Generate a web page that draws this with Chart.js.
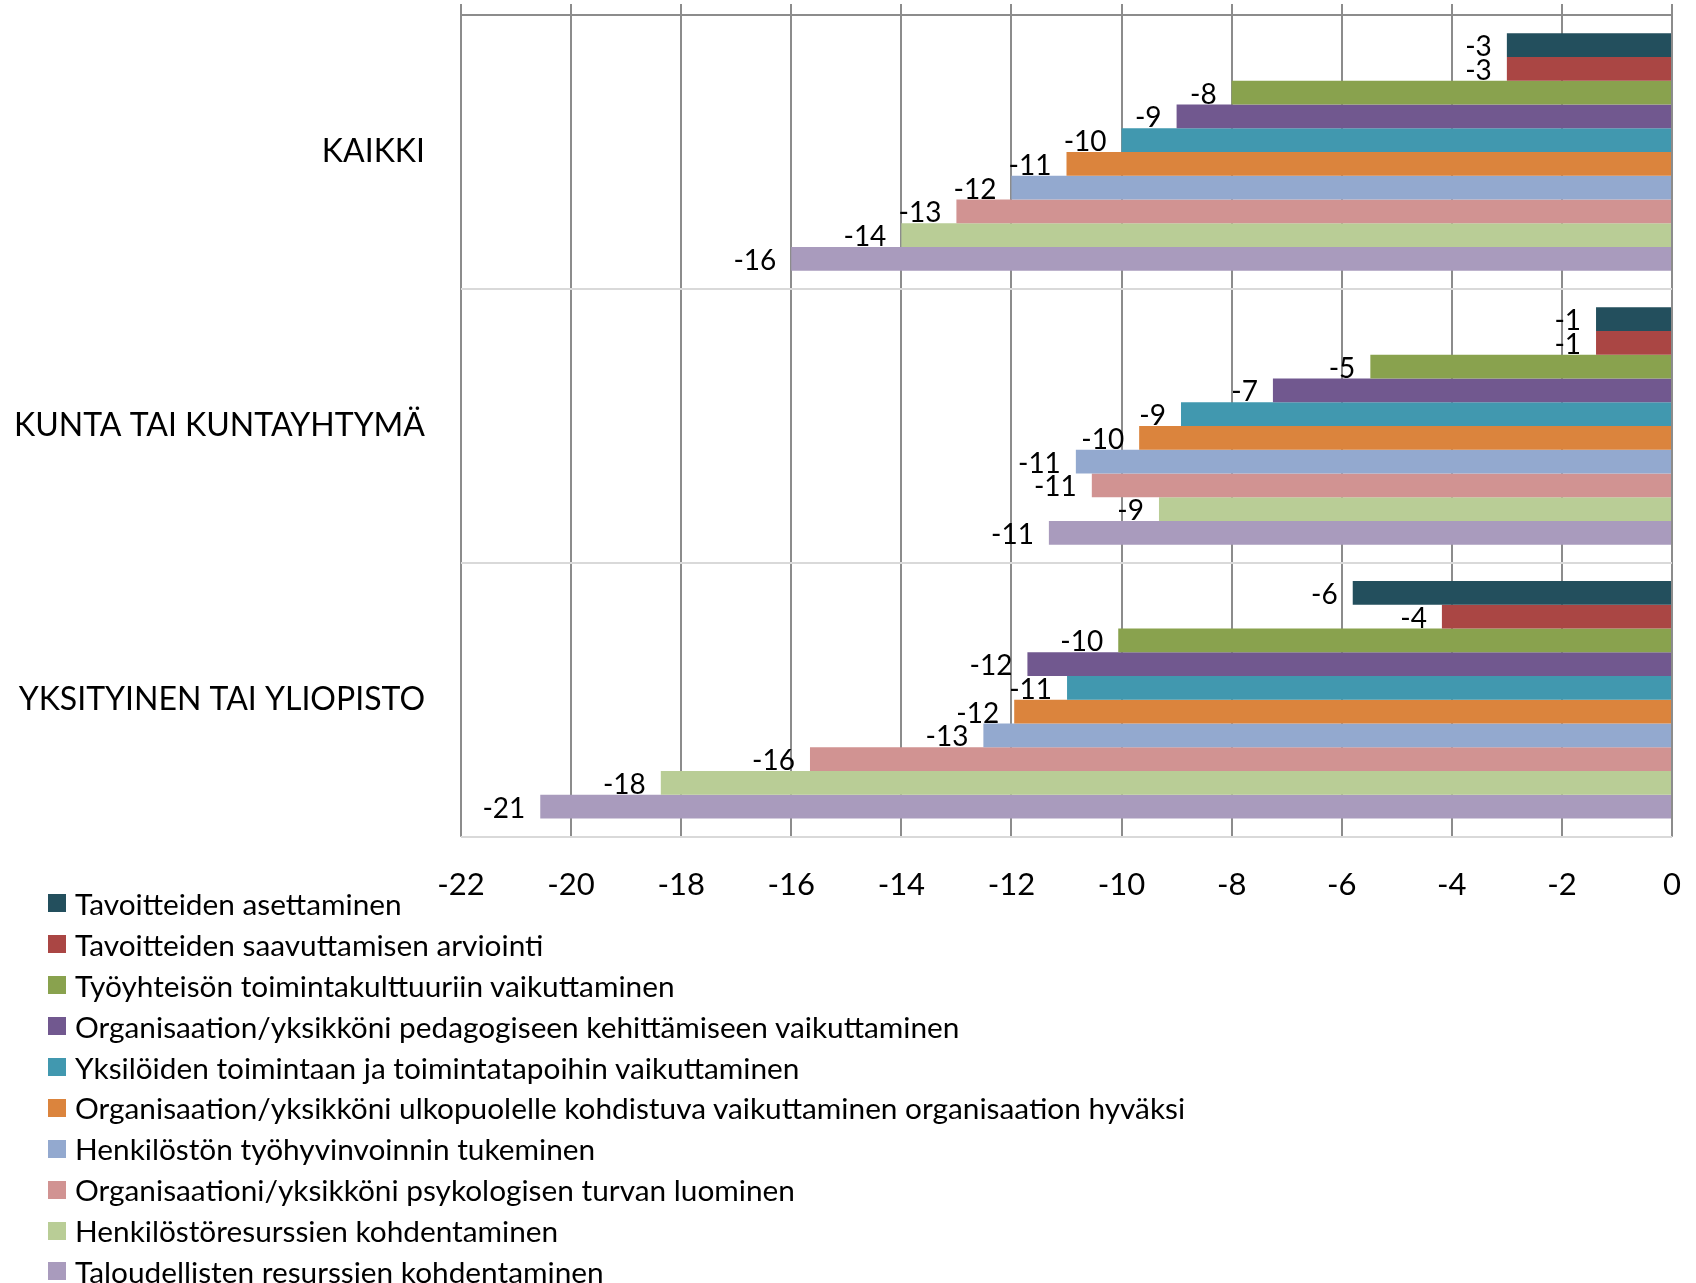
<!DOCTYPE html>
<html>
<head>
<meta charset="utf-8">
<script src="https://cdn.jsdelivr.net/npm/chart.js@4/dist/chart.umd.min.js"></script>
<style>
  body { margin: 0; background: #fff; }
  #wrap { position: relative; width: 1696px; height: 1283px; overflow: hidden; }
  #legend { position: absolute; left: 48px; top: 883px; font-family: Lato, sans-serif; font-size: 29.8px; color: #000; }
  .item { height: 40.9px; display: flex; align-items: center; white-space: nowrap; }
  .box { width: 18px; height: 18px; margin-right: 9px; flex: none; }
</style>
</head>
<body>
<div id="wrap">
  <canvas id="chart"></canvas>
  <div id="legend"></div>
</div>
<script>
const categories = ['KAIKKI', 'KUNTA TAI KUNTAYHTYMÄ', 'YKSITYINEN TAI YLIOPISTO'];

const seriesNames = [
  'Tavoitteiden asettaminen',
  'Tavoitteiden saavuttamisen arviointi',
  'Työyhteisön toimintakulttuuriin vaikuttaminen',
  'Organisaation/yksikköni pedagogiseen kehittämiseen vaikuttaminen',
  'Yksilöiden toimintaan ja toimintatapoihin vaikuttaminen',
  'Organisaation/yksikköni ulkopuolelle kohdistuva vaikuttaminen organisaation hyväksi',
  'Henkilöstön työhyvinvoinnin tukeminen',
  'Organisaationi/yksikköni psykologisen turvan luominen',
  'Henkilöstöresurssien kohdentaminen',
  'Taloudellisten resurssien kohdentaminen'
];

const seriesColors = ['#234F5D', '#AA4644', '#89A24E', '#71588F', '#4198AF',
                      '#DB843D', '#93A9CF', '#D19392', '#B9CD96', '#A99BBD'];

// one value per series, in the order of seriesNames
const kaikki = [-3, -3, -8, -9, -10, -11, -12, -13, -14, -16];
const kunta = [-1.38, -1.38, -5.48, -7.25, -8.92, -9.68, -10.83, -10.54, -9.32, -11.32];
const yksityinen = [-5.8, -4.18, -10.06, -11.71, -10.99, -11.95, -12.51, -15.66, -18.37, -20.56];

const xMin = -22;
const xMax = 0;
const xStep = 2;

const groups = [kaikki, kunta, yksityinen];

const datasets = seriesNames.map((name, i) => ({
    label: name,
    data: groups.map(g => g[i]),
    backgroundColor: seriesColors[i],
    borderWidth: 0,
    categoryPercentage: 0.867,
    barPercentage: 1,
    xAxisID: 'x'
}));

// value labels just left of each bar end
const barLabels = {
    id: 'barLabels',
    afterDatasetsDraw(chart) {
        const ctx = chart.ctx;
        ctx.save();
        ctx.font = '28px Lato';
        ctx.fillStyle = '#000';
        ctx.textAlign = 'right';
        ctx.textBaseline = 'middle';
        chart.data.datasets.forEach((ds, i) => {
            chart.getDatasetMeta(i).data.forEach((bar, j) => {
                ctx.fillText(String(Math.round(ds.data[j])), bar.x - 15, bar.y + 2);
            });
        });
        ctx.restore();
    }
};

const noPad = (scale) => {
    scale.paddingTop = 0;
    scale.paddingBottom = 0;
    scale.paddingLeft = 0;
    scale.paddingRight = 0;
};

const chart = new Chart(document.getElementById('chart'), {
    type: 'bar',
    data: { labels: categories, datasets: datasets },
    plugins: [barLabels],
    options: {
        indexAxis: 'y',
        responsive: true,
        maintainAspectRatio: false,
        animation: false,
        layout: { padding: { top: 4, right: 24, bottom: 349, left: 0 } },
        plugins: {
            legend: { display: false },
            tooltip: { enabled: false }
        },
        scales: {
            x: {
                type: 'linear',
                position: 'top',
                min: xMin,
                max: xMax,
                afterFit: noPad,
                ticks: { display: false, stepSize: xStep },
                grid: { color: '#8c8c8c', lineWidth: 2, tickLength: 11 },
                border: { color: '#8c8c8c', width: 2 }
            },
            x2: {
                type: 'linear',
                axis: 'x',
                position: 'bottom',
                min: xMin,
                max: xMax,
                afterFit: noPad,
                ticks: { stepSize: xStep, padding: 30, color: '#000', font: { family: 'Lato', size: 31 } },
                grid: { display: false, drawTicks: false },
                border: { display: false }
            },
            y: {
                position: 'left',
                afterFit: (scale) => { noPad(scale); scale.width = 461; },
                ticks: { padding: 36, color: '#000', font: { family: 'Lato', size: 32 } },
                grid: {
                    offset: true,
                    drawTicks: false,
                    lineWidth: 2,
                    color: (c) => c.index === 0 ? 'rgba(0,0,0,0)' : '#d9d9d9'
                },
                border: { display: false }
            }
        }
    }
});

const legendEl = document.getElementById('legend');
chart.data.datasets.forEach(ds => {
    const row = document.createElement('div');
    row.className = 'item';
    const box = document.createElement('span');
    box.className = 'box';
    box.style.background = ds.backgroundColor;
    const txt = document.createElement('span');
    txt.textContent = ds.label;
    row.appendChild(box);
    row.appendChild(txt);
    legendEl.appendChild(row);
});
</script>
</body>
</html>
